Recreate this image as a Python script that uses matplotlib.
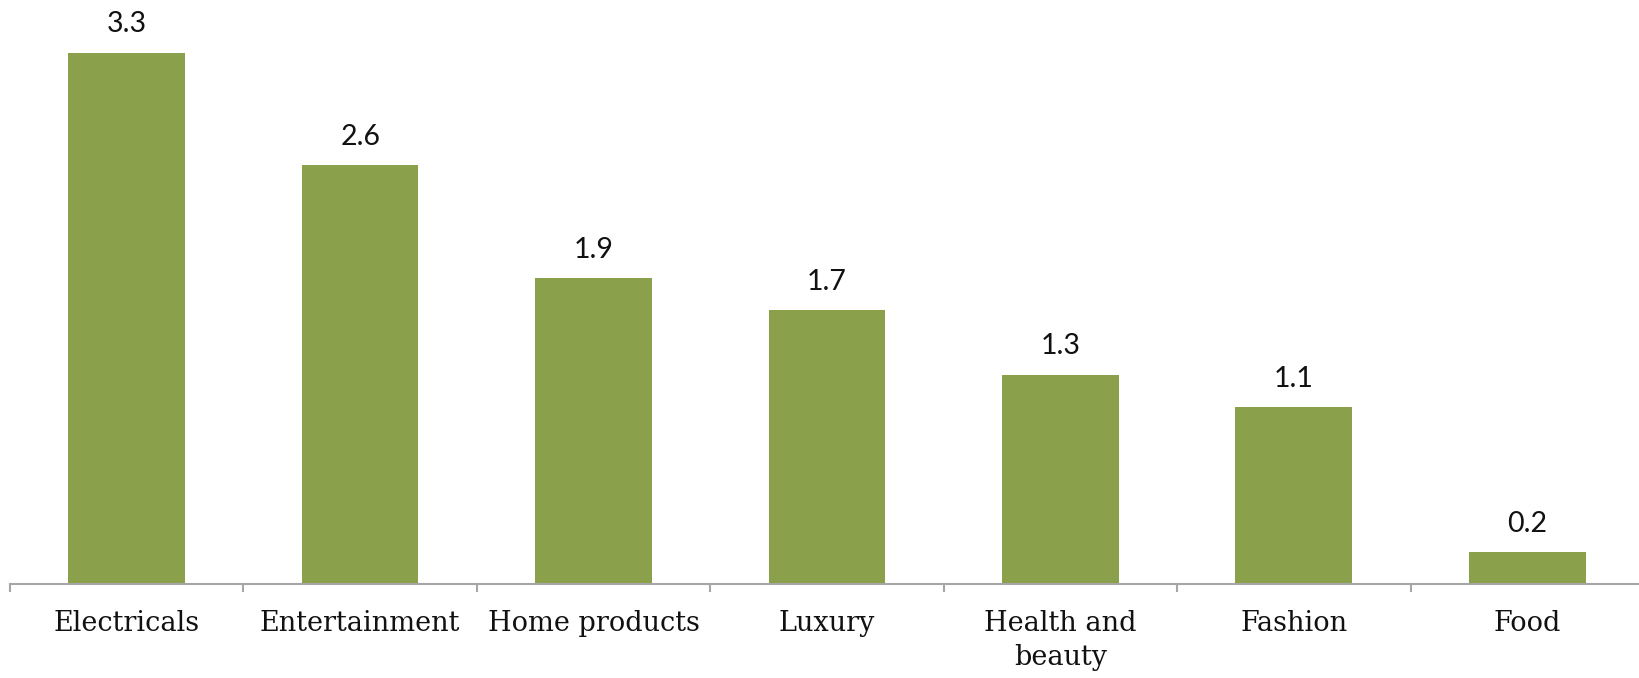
import matplotlib
matplotlib.use("Agg")
import matplotlib.pyplot as plt
import numpy as np

# Category names and values shown on the bars
categories = ["Electricals", "Entertainment", "Home products", "Luxury",
              "Health and\nbeauty", "Fashion", "Food"]
values = [3.3, 2.6, 1.9, 1.7, 1.3, 1.1, 0.2]

BAR_COLOR = "#8BA04B"
AXIS_COLOR = "#A6A6A6"

fig = plt.figure(figsize=(16.4, 6.78), dpi=100)
ax = fig.add_axes([10 / 1640, 94 / 678, 1634 / 1640, 584 / 678])

x = np.arange(len(categories))
bars = ax.bar(x, values, width=0.5, color=BAR_COLOR)

ax.bar_label(bars, labels=[f"{v:.1f}" for v in values], padding=11,
             fontsize=20.5, family="Lato", color="#111111")

ax.set_xlim(-0.5, len(categories) - 0.5)
ax.set_ylim(0, 584 / 161)

# category names under the bars, boundary ticks between them
ax.set_xticks(x)
ax.set_xticklabels(categories, fontsize=19.5, family="DejaVu Serif",
                   color="#111111", linespacing=1.3)
ax.tick_params(axis="x", which="major", length=0, pad=19)
ax.set_xticks(np.arange(len(categories) + 1) - 0.5, minor=True)
ax.tick_params(axis="x", which="minor", length=6, width=1.5,
               color=AXIS_COLOR, direction="out")

ax.set_yticks([])
for side in ["top", "right", "left"]:
    ax.spines[side].set_visible(False)
ax.spines["bottom"].set_color(AXIS_COLOR)
ax.spines["bottom"].set_linewidth(1.5)

fig.savefig("out.png", dpi=100)
